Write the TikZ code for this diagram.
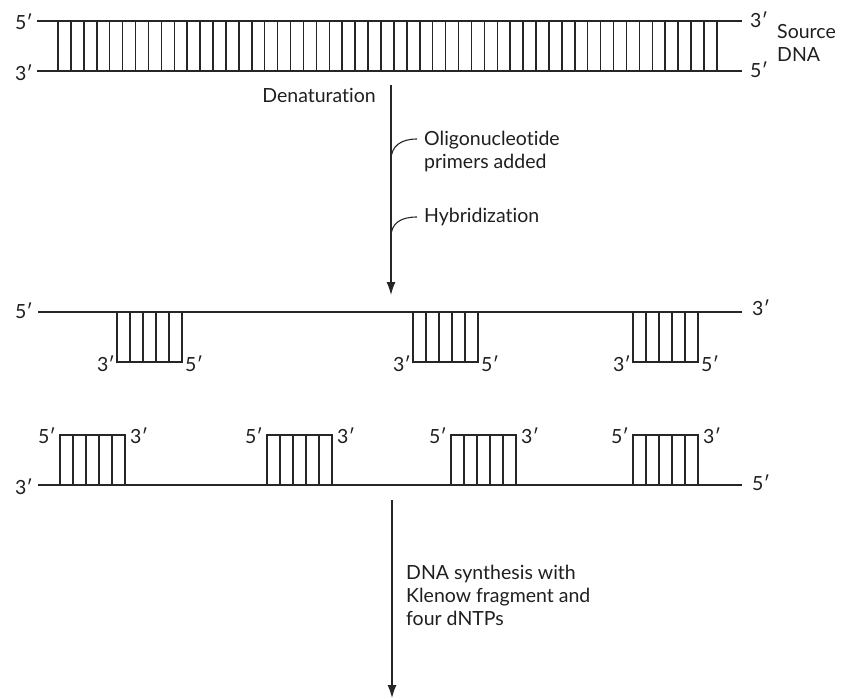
\documentclass[tikz,border=0pt]{standalone}
\usepackage{fontspec}
\setmainfont{Lato}[Ligatures={NoCommon,NoRare}]
\usetikzlibrary{arrows.meta}
\newcommand{\PrimerDown}[2]{%
  \draw[primer] (#1,312) -- (#1,362) -- ({#1+65},362) -- ({#1+65},312);
  \foreach \k in {1,...,4} \draw[primer] ({#1+\k*13},312) -- ({#1+\k*13},362);
  \node[lbl,anchor=east] (#2l) at ({#1-2},364) {3′};
  \node[lbl,anchor=west] (#2r) at ({#1+68},364) {5′};
}
\newcommand{\PrimerUp}[2]{%
  \draw[primer] (#1,485) -- (#1,435) -- ({#1+65},435) -- ({#1+65},485);
  \foreach \k in {1,...,4} \draw[primer] ({#1+\k*13},435) -- ({#1+\k*13},485);
  \node[lbl,anchor=east] (#2l) at ({#1-4},436) {5′};
  \node[lbl,anchor=west] (#2r) at ({#1+70},436) {3′};
}
\begin{document}
\begin{tikzpicture}[x=1pt,y=-1pt,
  strand/.style={line width=1.8pt, black!85},
  rung/.style={line width=1.5pt, black!85},
  primer/.style={line width=1.5pt, black!85, line join=miter},
  lbl/.style={font=\fontsize{19.5}{23}\selectfont, text=black!88, inner sep=0pt},
  arr/.style={line width=1.3pt, black!85, -{Latex[length=13pt,width=9pt]}},
  branch/.style={line width=1.1pt, black!85}]
\useasboundingbox (0,0) rectangle (841,699);
% source DNA
\draw[strand] (37,21) -- (742,21);
\draw[strand] (37,71) -- (742,71);
\foreach \i in {0,...,51} \draw[rung] ({58+\i*12.92},21) -- ({58+\i*12.92},71);
\node[lbl,anchor=east] (s5) at (33,22) {5′};
\node[lbl,anchor=east] (s3) at (33,73) {3′};
\node[lbl,anchor=west] (e3) at (750,20) {3′};
\node[lbl,anchor=west] (e5) at (750,70) {5′};
\node[lbl,anchor=west,align=left] (src) at (777,43) {Source\\DNA};
\node[lbl,anchor=east] (den) at (376,95) {Denaturation};
% arrow 1
\coordinate (a1s) at (391,85);
\coordinate (a1e) at (391,295);
\coordinate (b1) at (391,160);
\coordinate (b2) at (391,237);
\coordinate (c1) at (417,139);
\coordinate (c2) at (417,217);
\draw[arr] (a1s) -- (a1e);
\node[lbl,anchor=west,align=left] (olig) at (424,151) {Oligonucleotide\\primers added};
\node[lbl,anchor=west] (hyb) at (424,217) {Hybridization};
\draw[branch] (b1) .. controls (391,146) and (401,139) .. (c1);
\draw[branch] (b2) .. controls (391,223) and (401,217) .. (c2);
% row 1
\draw[strand] (38,312) -- (742,312);
\node[lbl,anchor=east] (r1l) at (33,311) {5′};
\node[lbl,anchor=west] (r1r) at (752,308) {3′};
\PrimerDown{117}{pa}
\PrimerDown{413}{pb}
\PrimerDown{633}{pc}
% row 2
\draw[strand] (38,485) -- (742,485);
\node[lbl,anchor=east] (r2l) at (33,487) {3′};
\node[lbl,anchor=west] (r2r) at (752,483) {5′};
\PrimerUp{60}{qa}
\PrimerUp{267}{qb}
\PrimerUp{451}{qc}
\PrimerUp{633}{qd}
% arrow 2
\coordinate (a2s) at (392,500);
\coordinate (a2e) at (392,698);
\draw[arr] (a2s) -- (a2e);
\node[lbl,anchor=west,align=left] (syn) at (406,595) {DNA synthesis with\\Klenow fragment and\\four dNTPs};
\end{tikzpicture}
\end{document}
